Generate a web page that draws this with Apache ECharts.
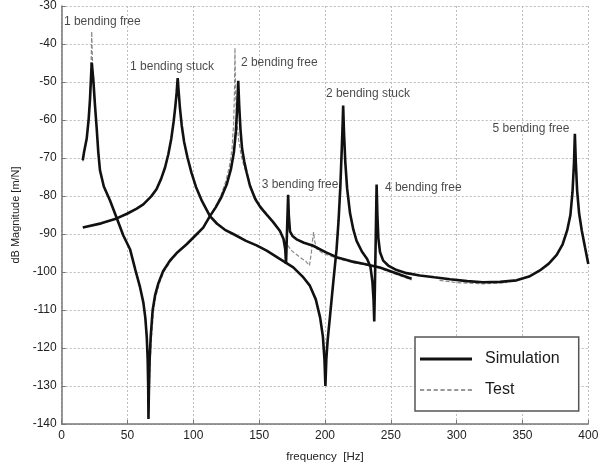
<!DOCTYPE html>
<html>
<head>
<meta charset="utf-8">
<style>
  html, body { margin: 0; padding: 0; background: #fff; }
  #chart { width: 613px; height: 468px; }
</style>
<script src="https://cdn.jsdelivr.net/npm/echarts@6/dist/echarts.min.js"></script>
</head>
<body>
<div id="chart"></div>
<script>
// Frequency response: simulated vs measured (dB magnitude vs frequency)

// Simulation, free configuration: [frequency Hz, dB]
const simFree = [
  [16, -70.6], [17, -68.4], [19, -64.9], [20.5, -59.7], [21.5, -54.5], [22.2, -49.3],
  [22.8, -44.9], [24, -49.3], [25.3, -56.2], [26.6, -62.3], [27.8, -68.5],
  [29.1, -73.3], [32, -77.5], [36.7, -81.2], [42, -86], [46.8, -90.4],
  [51.9, -94], [56, -99.5], [59.5, -104], [62, -108], [63.5, -112], [64.6, -117],
  [65.3, -123], [65.7, -130], [65.9, -138.7], [66.3, -130], [66.8, -123],
  [67.6, -117], [69.1, -110], [71, -106], [73.4, -103], [77, -99.8], [82.2, -97],
  [88, -94.8], [94.9, -92.7], [101, -90.6], [107.5, -88.3], [112.6, -85.3],
  [117, -83], [121, -80.5], [125.3, -77], [128.5, -73], [130.8, -68.5],
  [132.3, -63], [133.4, -56], [134.1, -49.7], [134.8, -56], [135.8, -62.5],
  [137, -67.5], [138.7, -71], [140.5, -73.8], [143, -77.3], [147, -80.8],
  [151, -83], [155.7, -84.9], [160.5, -86.8], [165.8, -89.2], [168.5, -91.3],
  [169.8, -94], [170.4, -97.9], [171, -91], [171.6, -84], [172, -79.7],
  [172.5, -85], [173.4, -89.3], [175.5, -90.6], [178.4, -91.4], [184, -92.3],
  [191, -93.1], [200, -94.7], [208.8, -96.1], [220, -97.2], [230, -97.9],
  [241.7, -98.8], [253, -100.2], [265.8, -101.8]
];

// Simulation, stuck configuration: [frequency Hz, dB]
const simStuck = [
  [16, -88.3], [30, -87.2], [41.8, -85.9], [50, -84.6], [57, -83.3], [62, -82.2],
  [68, -80.1], [72, -78.2], [75.5, -75.5], [78.5, -72.5], [81, -69],
  [83.2, -65], [85, -60.5], [86.3, -56.5], [87.3, -52.8], [88.1, -49],
  [88.9, -52.8], [89.8, -56.8], [91.2, -61.5], [93, -65.8], [95.5, -69.8],
  [98.5, -73.8], [102, -77.6], [106.5, -81.3], [112.6, -85.3], [118, -87.3],
  [124, -88.9], [130.3, -90], [140, -91.8], [148, -93], [155.7, -94.4],
  [165, -96.4], [175.9, -98.8], [183, -101.2], [188.5, -103.6], [193, -107.2],
  [196.3, -112], [198.4, -117], [199.6, -123], [200.3, -130], [201, -123],
  [202, -118], [203.7, -112], [205.5, -105.5], [207.2, -99.5], [208.8, -94],
  [210.3, -86.5], [211.6, -78], [212.7, -68], [213.4, -61], [213.8, -56.2],
  [214.4, -63], [215.4, -71], [216.8, -78], [219, -84.5], [221.5, -88.8],
  [224, -91.8], [228, -94.6], [232, -96.6], [234.5, -98.6], [236, -102.5],
  [236.9, -107.5], [237.4, -113], [237.9, -104], [238.5, -92], [239.2, -77],
  [239.8, -85], [240.5, -91], [241.8, -94.8], [244.2, -97], [248, -98.3],
  [254.4, -99.5], [262, -100.3], [272, -100.9], [283, -101.4], [295, -101.9],
  [308, -102.4], [320, -102.7], [333, -102.6], [345.5, -102.2], [355, -101.2],
  [363.2, -99.6], [370, -97.8], [376, -95.5], [380.5, -92.7], [384, -89],
  [386.4, -85], [388, -79], [389.1, -71.5], [389.8, -63.6], [390.5, -71],
  [391.5, -78.5], [393, -84.5], [395, -89], [397.5, -93.5], [400, -97.9]
];

// Test, measured along the free configuration: [frequency Hz, dB]
const testFree = [
  [16, -70.9], [17, -68.7], [19, -65.2], [20.5, -60], [21.5, -54.5], [22.2, -47],
  [22.6, -41], [22.8, -36.7], [23.1, -41], [23.6, -47], [24.5, -52], [25.5, -57],
  [26.8, -63], [28, -69], [29.3, -73.6], [32.2, -77.8], [37, -81.5], [42.2, -86.3],
  [47, -90.7], [52.1, -94.3], [56.3, -100], [59.8, -104.5], [62.3, -108.5],
  [63.8, -112.5], [64.9, -118], [65.6, -124], [66, -131], [66.3, -136],
  [66.7, -131], [67.2, -124], [68.1, -118], [69.6, -110.5], [71.5, -106.4],
  [74, -103.2], [77.5, -100], [82.8, -97.2], [88.5, -94.8], [95.4, -92.6],
  [101.4, -90.4], [108, -88], [113, -85], [117.2, -82.5], [121, -79.8],
  [124.8, -76], [127.5, -72], [129.4, -67.5], [130.6, -61], [131.2, -53],
  [131.6, -41], [132.1, -53], [133, -60], [134.3, -65], [136.3, -69.3],
  [138.6, -72.3], [141.4, -75], [144.5, -78.5], [149, -81.6], [155.7, -84.7],
  [161, -87], [166, -89.6], [170, -92.3], [175, -94.5], [180.5, -96],
  [185.5, -97.2], [188.2, -98.3], [189.6, -95], [190.6, -91.5], [191.3, -89.5],
  [192.2, -92], [194, -94], [198, -95], [204, -95.8], [210, -96.5],
  [222, -97.6], [232, -98.2], [241.7, -99], [253, -100.5], [265.8, -102.1]
];

// Test, measured along the flat stretch of the stuck configuration
const testStuck = [
  [287, -102.2], [300, -102.8], [320, -103.1], [338, -102.8]
];

// Mode annotations: [text, frequency Hz, dB] (left edge of the text)
const modeNotes = [
  ['1 bending free', 1.7, -34.2],
  ['1 bending stuck', 51.9, -46],
  ['2 bending free', 136.1, -44.8],
  ['2 bending stuck', 200.7, -53.2],
  ['3 bending free', 151.9, -76.9],
  ['4 bending free', 245.5, -77.7],
  ['5 bending free', 327.3, -62.3]
];

const xTicks = { min: 0, max: 400, interval: 50 };
const yTicks = { min: -140, max: -30, interval: 10 };

const FONT = '"Liberation Sans", Arial, sans-serif';
const chart = echarts.init(document.getElementById('chart'), null, { renderer: 'canvas' });

const simStyle = { color: '#111', width: 2.6, type: 'solid' };
const testStyle = { color: '#8a8a8a', width: 1.2, type: [4, 2] };

// Legend keys: a solid bar and a row of short dashes
const ICON_W = 52;
const solidIcon = 'path://M0,0h' + ICON_W + 'v2.8h-' + ICON_W + 'z';
let dashIcon = 'path://';
for (let x = 0; x < ICON_W; x += 6.5) {
  dashIcon += 'M' + x + ',0h4v1.2h-4z';
}

chart.setOption({
  animation: false,
  backgroundColor: '#fff',
  grid: { left: 61.7, right: 24.7, top: 6, bottom: 39.7, containLabel: false },
  legend: {
    data: [
      { name: 'Simulation', icon: solidIcon, itemStyle: { color: simStyle.color } },
      { name: 'Test', icon: dashIcon, itemStyle: { color: '#777' } }
    ],
    orient: 'vertical',
    left: 415,
    top: 337,
    itemWidth: ICON_W,
    itemHeight: 14,
    itemGap: 15,
    padding: [14, 19, 13, 5],
    borderColor: '#555',
    borderWidth: 1.5,
    backgroundColor: '#fff',
    itemStyle: { borderWidth: 0 },
    textStyle: { fontFamily: FONT, fontSize: 16, color: '#1a1a1a', padding: [0, 0, 0, 8] }
  },
  xAxis: {
    type: 'value',
    min: xTicks.min, max: xTicks.max, interval: xTicks.interval,
    name: 'frequency  [Hz]',
    nameLocation: 'middle',
    nameGap: 27,
    nameTextStyle: { fontFamily: FONT, fontSize: 11.5, color: '#222' },
    axisLine: { lineStyle: { color: '#777', width: 1.5 } },
    axisTick: { inside: true, length: 4, lineStyle: { color: '#777' } },
    axisLabel: { fontFamily: FONT, fontSize: 12, color: '#222', margin: 6 },
    splitLine: { show: true, lineStyle: { color: '#bdbdbd', width: 1, type: [2, 2] } }
  },
  yAxis: {
    type: 'value',
    min: yTicks.min, max: yTicks.max, interval: yTicks.interval,
    name: 'dB Magnitude [m/N]',
    nameLocation: 'middle',
    nameGap: 33,
    nameTextStyle: { fontFamily: FONT, fontSize: 11, color: '#222' },
    axisLine: { show: true, lineStyle: { color: '#777', width: 1.5 } },
    axisTick: { show: true, inside: true, length: 4, lineStyle: { color: '#777' } },
    axisLabel: { fontFamily: FONT, fontSize: 12, color: '#222', margin: 5 },
    splitLine: { show: true, lineStyle: { color: '#bdbdbd', width: 1, type: [2, 2] } }
  },
  series: [
    {
      name: 'Test', type: 'line', data: testFree, symbol: 'none',
      lineStyle: testStyle, itemStyle: { color: testStyle.color }, z: 2
    },
    {
      name: 'Test', type: 'line', data: testStuck, symbol: 'none',
      lineStyle: testStyle, itemStyle: { color: testStyle.color }, z: 2
    },
    {
      name: 'Simulation', type: 'line', data: simFree, symbol: 'none',
      lineStyle: simStyle, itemStyle: { color: simStyle.color }, z: 3
    },
    {
      name: 'Simulation', type: 'line', data: simStuck, symbol: 'none',
      lineStyle: simStyle, itemStyle: { color: simStyle.color }, z: 3
    },
    {
      name: 'notes', type: 'scatter', symbolSize: 0, silent: true, z: 4,
      data: modeNotes.map(n => ({ name: n[0], value: [n[1], n[2]] })),
      label: {
        show: true, position: 'right', distance: 0,
        formatter: '{b}',
        fontFamily: FONT, fontSize: 12, color: '#1a1a1a'
      }
    }
  ]
});
</script>
</body>
</html>
